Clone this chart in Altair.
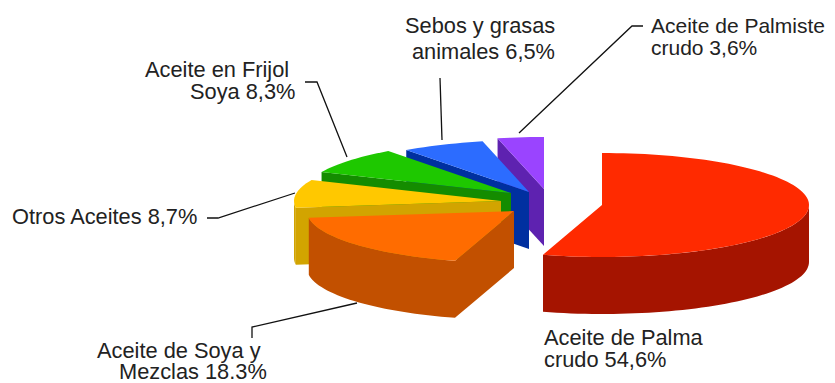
import math
import altair as alt
import pandas as pd

# Data
categories = ["Aceite de Palma crudo", "Aceite de Soya y Mezclas", "Otros Aceites",
              "Aceite en Frijol Soya", "Sebos y grasas animales", "Aceite de Palmiste crudo"]
shares = [54.6, 18.3, 8.7, 8.3, 6.5, 3.6]

# Styles
top_colors = ["#FF2A00", "#FF6C00", "#FFC800", "#1EC800", "#2C6CFF", "#9A44FF"]
side_colors = ["#A51400", "#C25000", "#D2A400", "#148C00", "#0030A0", "#5E22B0"]

# Layout of the exploded 3-D pie (page pixels)
centers = [(602, 205), (514, 211), (501, 201), (511, 193), (529, 192), (544, 189)]
RX, RY, DEPTH = 207, 52, 57
M = 8  # page margin

label_text = ["Sebos y grasas", "animales 6,5%", "Aceite de Palmiste", "crudo 3,6%",
              "Aceite en Frijol", "Soya 8,3%", "Otros Aceites 8,7%",
              "Aceite de Soya y", "Mezclas 18.3%", "Aceite de Palma", "crudo 54,6%"]
label_x = [405, 412, 651, 651, 145, 190, 12, 97, 119, 544, 544]
label_y = [33, 59, 33, 55, 77, 99, 224, 358, 379, 345, 367]
label_size = [21.8, 21.8, 21, 21, 21.8, 21.8, 21.8, 21.8, 21.8, 21.8, 21.8]

leader_id = ["pm", "pm", "pm", "se", "se", "fr", "fr", "fr", "ot", "ot", "ot", "me", "me", "me"]
leader_x = [519, 632, 643, 440, 442, 305, 317, 347, 207, 218, 295, 252, 252, 357]
leader_y = [133, 26, 26, 78, 140, 82, 82, 157, 218, 218, 193, 338, 327, 303]


def pt(c, deg, dy=0):
    r = math.radians(deg)
    return [c[0] + RX * math.sin(r), c[1] - RY * math.cos(r) + dy]


def arc(c, a0, a1, dy=0):
    n = max(2, int(abs(a1 - a0) / 2) + 1)
    return [pt(c, a0 + (a1 - a0) * i / n, dy) for i in range(n + 1)]


def feature(ring, color):
    ring = ring + [ring[0]]
    return {"type": "Feature",
            "geometry": {"type": "Polygon", "coordinates": [ring]},
            "properties": {"color": color}}


# Angles follow from the shares, clockwise from the top
starts, a = [], 0.0
for s in shares:
    starts.append(a)
    a += s * 360 / sum(shares)

features = []
for i in range(len(shares) - 1, -1, -1):  # back to front
    c = centers[i]
    a0, a1 = starts[i], starts[i] + shares[i] * 360 / sum(shares)
    if i > 0:  # cut face along the leading edge
        p = pt(c, a0)
        features.append(feature([[c[0], c[1]], p, [p[0], p[1] + DEPTH], [c[0], c[1] + DEPTH]], side_colors[i]))
    w0, w1 = max(a0, 90), min(a1, 270)
    if w1 > w0:  # outer wall
        top = arc(c, w0, w1)
        bottom = arc(c, w0, w1, DEPTH)
        features.append(feature(top + bottom[::-1], side_colors[i]))
    features.append(feature([[c[0], c[1]]] + arc(c, a0, a1), top_colors[i]))

pie = alt.Chart(alt.Data(values=features)).mark_geoshape(strokeWidth=0, stroke=None).encode(
    fill=alt.Fill("properties.color:N", scale=None)
).project(type="identity", scale=1, translate=[-M, -M])

labels = pd.DataFrame({"t": label_text, "x": [v - M for v in label_x],
                       "y": [v - M for v in label_y], "s": label_size})
text = alt.Chart(labels).mark_text(
    align="left", baseline="alphabetic", font="Liberation Sans", color="#222222"
).encode(
    x=alt.X("x:Q", scale=None, axis=None),
    y=alt.Y("y:Q", scale=None, axis=None),
    size=alt.Size("s:Q", scale=None, legend=None),
    text="t:N",
)

leaders = pd.DataFrame({"id": leader_id, "x": [v - M for v in leader_x],
                        "y": [v - M for v in leader_y], "o": range(len(leader_x))})
lines = alt.Chart(leaders).mark_line(color="#111111", strokeWidth=1.3).encode(
    x=alt.X("x:Q", scale=None, axis=None),
    y=alt.Y("y:Q", scale=None, axis=None),
    detail="id:N",
    order="o:Q",
)

chart = alt.layer(pie, lines, text).properties(
    width=819, height=375, padding=0, autosize=alt.AutoSizeParams(type="none"), background="white"
).configure_view(stroke=None)

chart.save("out.html", embed_options={"renderer": "svg", "actions": False})
